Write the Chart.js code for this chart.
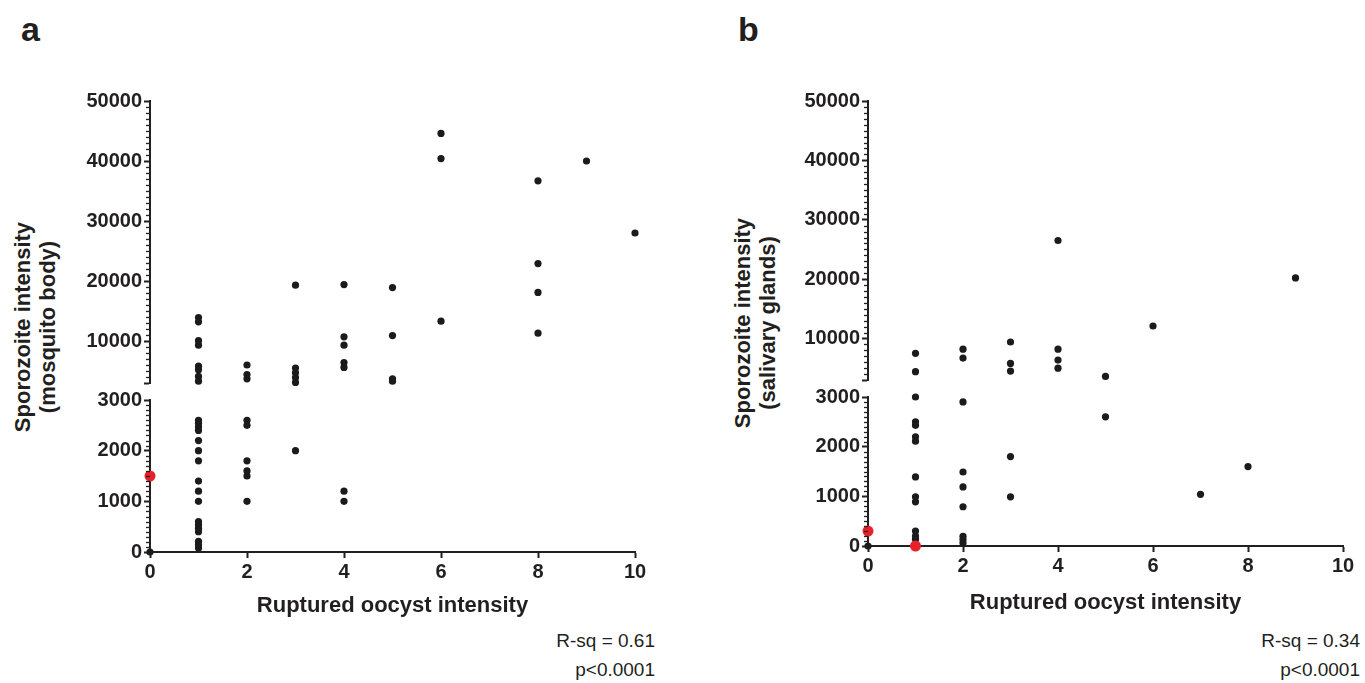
<!DOCTYPE html>
<html>
<head>
<meta charset="utf-8">
<script src="https://cdn.jsdelivr.net/npm/chart.js@4.4.0/dist/chart.umd.min.js"></script>
<style>
html, body { margin:0; padding:0; background:#fff; overflow:hidden; width:1365px; height:683px; }
#wrap { position:relative; width:1365px; height:683px; font-family:"Liberation Sans", Arial, sans-serif; color:#231f20; }
canvas { position:absolute; top:0; }
.letter { position:absolute; font-weight:bold; font-size:34px; line-height:34px; }
.ytitle { position:absolute; width:420px; height:50px; font-weight:bold; font-size:22px; line-height:25px; text-align:center; transform:rotate(-90deg); white-space:nowrap; }
.stat { position:absolute; font-size:19px; line-height:29px; text-align:right; white-space:nowrap; }
</style>
</head>
<body>
<div id="wrap">
  <div class="letter" style="left:21px; top:12px;">a</div>
  <div class="letter" style="left:738px; top:12px;">b</div>
  <div class="ytitle" style="left:-175.5px; top:302px;">Sporozoite intensity<br>(mosquito body)</div>
  <div class="ytitle" style="left:544.5px; top:298px;">Sporozoite intensity<br>(salivary glands)</div>
  <div class="stat" style="right:710px; top:626px;">R-sq = 0.61<br>p&lt;0.0001</div>
  <div class="stat" style="right:5px; top:626px;">R-sq = 0.34<br>p&lt;0.0001</div>
  <canvas id="chartA" width="690" height="683" style="left:0px;"></canvas>
  <canvas id="chartB" width="647" height="683" style="left:718px;"></canvas>
</div>
<script>
// ---------- data ----------
const xTickValues = [0, 2, 4, 6, 8, 10];
const yLowTickValues = [0, 1000, 2000, 3000];
const yHighTickValues = [10000, 20000, 30000, 40000, 50000];
const axisBreak = 3000;       // lower segment: 0-3000, upper segment: 3000-50000
const yTop = 50000;
const xTitle = 'Ruptured oocyst intensity';

// Panel a: mosquito body
const bodyX = [0,
  1,1,1,1,1,1,1,1,1,1,1,1,1,1,1,1,1,1,1,1,1,1,1,1,1,
  2,2,2,2,2,2,2,2,2,
  3,3,3,3,3,3,
  4,4,4,4,4,4,4,
  5,5,5,5,
  6,6,6,
  8,8,8,8,
  9,
  10];
const bodyY = [0,
  13900,13200,10050,9300,5800,5200,4100,3300,2600,2540,2470,2400,2200,2000,1800,1400,1200,1000,600,540,470,400,210,145,80,
  6000,4400,3700,2600,2500,1800,1600,1500,1000,
  19300,5500,4700,3900,3100,2000,
  19400,10700,9300,6400,5600,1200,1000,
  18900,10900,3700,3300,
  44600,40400,13300,
  36700,22900,18100,11300,
  40000,
  28000];
const bodyRedX = [0];
const bodyRedY = [1500];

// Panel b: salivary glands
const glandX = [0,
  1,1,1,1,1,1,1,1,1,1,1,1,1,
  2,2,2,2,2,2,2,2,2,
  3,3,3,3,3,
  4,4,4,4,
  5,5,
  6,
  7,
  8,
  9];
const glandY = [0,
  7500,4400,3000,2500,2430,2200,2110,1390,990,890,300,200,135,
  8200,6700,2900,1490,1190,790,195,130,60,
  9400,5800,4500,1800,990,
  26500,8200,6350,5000,
  3600,2600,
  12100,
  1040,
  1600,
  20200];
const glandRedX = [0, 1];
const glandRedY = [300, 0];

// ---------- style ----------
const INK = '#231f20';
const RED = '#e8202a';
const FONT = "'Liberation Sans', Arial, sans-serif";
Chart.defaults.font.family = FONT;
Chart.defaults.color = INK;

const minorTicks = {
  id: 'minorTicks',
  afterDraw(chart) {
    const ctx = chart.ctx;
    const left = chart.chartArea.left;
    ctx.save();
    ctx.strokeStyle = INK;
    ctx.lineWidth = 1.3;
    const draw = (scale, from, to, step, major) => {
      for (let v = from; v <= to; v += step) {
        if (v % major === 0) continue;
        const y = Math.round(scale.getPixelForValue(v)) + 0.5;
        ctx.beginPath();
        ctx.moveTo(left - 4, y);
        ctx.lineTo(left, y);
        ctx.stroke();
      }
    };
    draw(chart.scales.yLow, 100, axisBreak - 100, 100, 1000);
    draw(chart.scales.yHigh, 4000, yTop - 1000, 1000, 10000);
    ctx.restore();
  }
};

function toPoints(xs, ys) { return xs.map((x, i) => ({ x: x, y: ys[i] })); }

function buildPanel(canvasId, xs, ys, rxs, rys, lay) {
  const pts = toPoints(xs, ys);
  const red = toPoints(rxs, rys);
  const lowPts = pts.filter(p => p.y <= axisBreak);
  const highPts = pts.filter(p => p.y > axisBreak);
  const redLow = red.filter(p => p.y <= axisBreak);
  const redHigh = red.filter(p => p.y > axisBreak);
  const blackStyle = { pointRadius: 3.6, pointBackgroundColor: '#1b1b1b', pointBorderWidth: 0, showLine: false, clip: false };
  const redStyle = { pointRadius: 5.5, pointBackgroundColor: RED, pointBorderWidth: 0, showLine: false, clip: false };
  const tickFont = { size: 20, weight: 'bold', family: FONT };
  const yGrid = { display: true, drawOnChartArea: false, drawTicks: true, tickLength: 6, tickWidth: 2, tickColor: INK };
  const yBorder = { display: true, color: INK, width: 2 };

  new Chart(document.getElementById(canvasId), {
    type: 'scatter',
    data: {
      datasets: [
        Object.assign({ data: redLow, yAxisID: 'yLow' }, redStyle),
        Object.assign({ data: redHigh, yAxisID: 'yHigh' }, redStyle),
        Object.assign({ data: lowPts, yAxisID: 'yLow' }, blackStyle),
        Object.assign({ data: highPts, yAxisID: 'yHigh' }, blackStyle)
      ]
    },
    options: {
      responsive: false,
      maintainAspectRatio: false,
      devicePixelRatio: 1,
      animation: false,
      events: [],
      layout: { padding: lay.padding },
      plugins: { legend: { display: false }, tooltip: { enabled: false } },
      scales: {
        x: {
          type: 'linear', position: 'bottom', min: 0, max: 10,
          afterBuildTicks: s => { s.ticks = xTickValues.map(v => ({ value: v })); },
          afterFit: s => { s.height = lay.xHeight; },
          grid: { display: true, drawOnChartArea: false, drawTicks: true, tickLength: 6, tickWidth: 2, tickColor: INK },
          border: { display: true, color: INK, width: 2 },
          ticks: { font: tickFont, color: INK, padding: 2, autoSkip: false, maxRotation: 0, callback: v => String(v) },
          title: { display: true, text: xTitle, font: { size: 22, weight: 'bold', family: FONT }, color: INK, padding: { top: 0, bottom: 0 } }
        },
        yLow: {
          type: 'linear', axis: 'y', position: 'left', stack: 'y', stackWeight: lay.wLow,
          min: 0, max: axisBreak,
          afterBuildTicks: s => { s.ticks = yLowTickValues.map(v => ({ value: v })); },
          afterFit: s => { s.width = lay.yWidth; },
          grid: yGrid, border: yBorder,
          ticks: { font: tickFont, color: INK, padding: 2, autoSkip: false, callback: v => String(v) }
        },
        yGap: {
          type: 'linear', axis: 'y', position: 'left', stack: 'y', stackWeight: lay.wGap,
          min: 0, max: 1,
          afterFit: s => { s.width = lay.yWidth; },
          grid: { display: false }, border: { display: false },
          ticks: { display: false }
        },
        yHigh: {
          type: 'linear', axis: 'y', position: 'left', stack: 'y', stackWeight: lay.wHigh,
          min: axisBreak, max: yTop,
          afterBuildTicks: s => { s.ticks = [axisBreak].concat(yHighTickValues).map(v => ({ value: v })); },
          afterFit: s => { s.width = lay.yWidth; },
          grid: yGrid, border: yBorder,
          ticks: { font: tickFont, color: INK, padding: 2, autoSkip: false, callback: v => (v === axisBreak ? '' : String(v)) }
        }
      }
    },
    plugins: [minorTicks]
  });
}

buildPanel('chartA', bodyX, bodyY, bodyRedX, bodyRedY, {
  padding: { left: 0, top: 101, right: 55, bottom: 64 },
  xHeight: 67, yWidth: 150, wLow: 152, wGap: 17, wHigh: 282
});
buildPanel('chartB', glandX, glandY, glandRedX, glandRedY, {
  padding: { left: 0, top: 101, right: 22, bottom: 67 },
  xHeight: 70, yWidth: 150, wLow: 149, wGap: 17, wHigh: 279
});
</script>
</body>
</html>
